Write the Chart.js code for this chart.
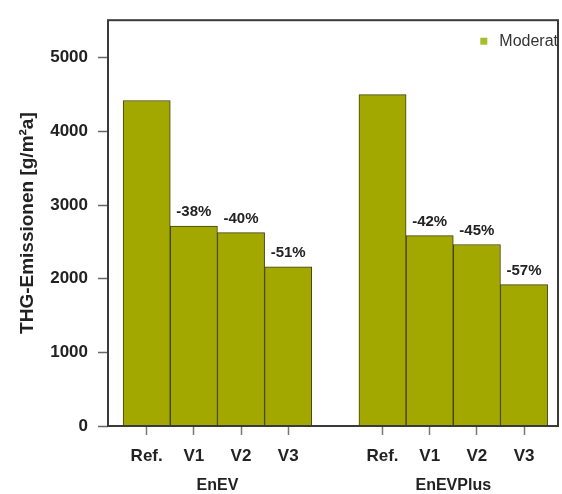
<!DOCTYPE html>
<html>
<head>
<meta charset="utf-8">
<script src="https://cdn.jsdelivr.net/npm/chart.js@4.4.1/dist/chart.umd.min.js"></script>
<style>
  html, body { margin: 0; padding: 0; background: #fff; }
</style>
</head>
<body>
<canvas id="myChart" width="562" height="494"></canvas>
<script>
const groups = ["EnEV", "EnEVPlus"];
const variants = ["Ref.", "V1", "V2", "V3"];
const enevValues = [4420, 2715, 2625, 2160];
const enevPlusValues = [4500, 2585, 2465, 1920];
const enevLabels = ["", "-38%", "-40%", "-51%"];
const enevPlusLabels = ["", "-42%", "-45%", "-57%"];
const yTicks = [0, 1000, 2000, 3000, 4000, 5000];
const seriesName = "Moderat";

const fontFam = "'Liberation Sans', Arial, sans-serif";

// one slot between the two groups
const allValues = [enevValues, enevPlusValues];
const allLabels = [enevLabels, enevPlusLabels];
let points = [];
let pctText = [];
let tickNames = [];
allValues.forEach((vals, g) => {
    vals.forEach((v, i) => {
        points.push({ x: g * (variants.length + 1) + i + 1, y: v });
        pctText.push(allLabels[g][i]);
        tickNames.push(variants[i]);
    });
});
const tickPos = points.map(p => p.x);
const groupPos = groups.map((g, gi) => gi * (variants.length + 1) + (variants.length + 1) / 2);

const boxPlugin = {
    id: "box",
    afterDatasetsDraw(chart) {
        const { ctx, chartArea: a } = chart;
        ctx.save();
        ctx.strokeStyle = "#3a3a3a";
        ctx.lineWidth = 2;
        ctx.strokeRect(a.left, a.top, a.right - a.left, a.bottom - a.top);
        ctx.restore();
    }
};

const pctPlugin = {
    id: "pct",
    afterDatasetsDraw(chart) {
        const { ctx } = chart;
        const meta = chart.getDatasetMeta(0);
        ctx.save();
        ctx.font = "bold 15px " + fontFam;
        ctx.fillStyle = "#222";
        ctx.textAlign = "center";
        ctx.textBaseline = "middle";
        meta.data.forEach((bar, i) => {
            if (pctText[i]) ctx.fillText(pctText[i], bar.x, bar.y - 14);
        });
        ctx.restore();
    }
};

const legendPlugin = {
    id: "miniLegend",
    afterDraw(chart) {
        const { ctx, chartArea: a } = chart;
        const ds = chart.data.datasets[0];
        ctx.save();
        ctx.font = "16px " + fontFam;
        ctx.fillStyle = "#333";
        ctx.textAlign = "right";
        ctx.textBaseline = "middle";
        const tx = a.right;
        const ty = a.top + 21;
        ctx.fillText(ds.label, tx, ty);
        const w = ctx.measureText(ds.label).width;
        ctx.fillStyle = "#a3bf2a";
        ctx.fillRect(tx - w - 19, ty - 3.5, 7, 7);
        ctx.restore();
    }
};

const config = {
    type: "bar",
    data: {
        datasets: [{
            label: seriesName,
            data: points,
            backgroundColor: "#a2a800",
            borderColor: "#3f3f10",
            borderWidth: 1,
            barPercentage: 1,
            categoryPercentage: 1
        }]
    },
    options: {
        responsive: false,
        animation: false,
        devicePixelRatio: 1,
        layout: { padding: { top: 9, right: 4, left: 0, bottom: 0 } },
        plugins: {
            legend: { display: false },
            tooltip: { enabled: false }
        },
        scales: {
            x: {
                type: "linear",
                position: "bottom",
                weight: 0,
                offset: false,
                min: 0.18,
                max: 9.72,
                afterBuildTicks: (scale) => { scale.ticks = tickPos.map(v => ({ value: v })); },
                afterFit: (scale) => { scale.height = 40; },
                border: { display: false },
                grid: { offset: false, drawOnChartArea: false, tickLength: 9, color: "#777", tickWidth: 1.5 },
                ticks: {
                    autoSkip: false,
                    maxRotation: 0,
                    padding: 11,
                    color: "#222",
                    font: { family: fontFam, size: 17, weight: "bold" },
                    callback: (v, i) => tickNames[i]
                }
            },
            groupAxis: {
                type: "linear",
                axis: "x",
                position: "bottom",
                weight: 1,
                offset: false,
                min: 0.18,
                max: 9.72,
                afterBuildTicks: (scale) => { scale.ticks = groupPos.map(v => ({ value: v })); },
                afterFit: (scale) => { scale.height = 28; },
                border: { display: false },
                grid: { display: false, drawTicks: false, offset: false },
                ticks: {
                    autoSkip: false,
                    maxRotation: 0,
                    padding: 10,
                    color: "#222",
                    font: { family: fontFam, size: 16, weight: "bold" },
                    callback: (v, i) => groups[i]
                }
            },
            y: {
                min: 0,
                max: 5510,
                afterBuildTicks: (scale) => { scale.ticks = yTicks.map(v => ({ value: v })); },
                afterFit: (scale) => { scale.width = 108; },
                border: { display: false },
                grid: { drawOnChartArea: false, tickLength: 10, color: "#666", tickWidth: 1.5 },
                ticks: {
                    padding: 10,
                    color: "#222",
                    font: { family: fontFam, size: 17, weight: "bold" },
                    callback: (v) => String(v)
                },
                title: {
                    display: true,
                    text: "THG-Emissionen [g/m²a]",
                    color: "#222",
                    font: { family: fontFam, size: 19, weight: "bold" },
                    padding: { top: 16, bottom: 0 }
                }
            }
        }
    },
    plugins: [boxPlugin, pctPlugin, legendPlugin]
};

const myChart = document.getElementById("myChart");
let chart = new Chart(myChart, config);
</script>
</body>
</html>
